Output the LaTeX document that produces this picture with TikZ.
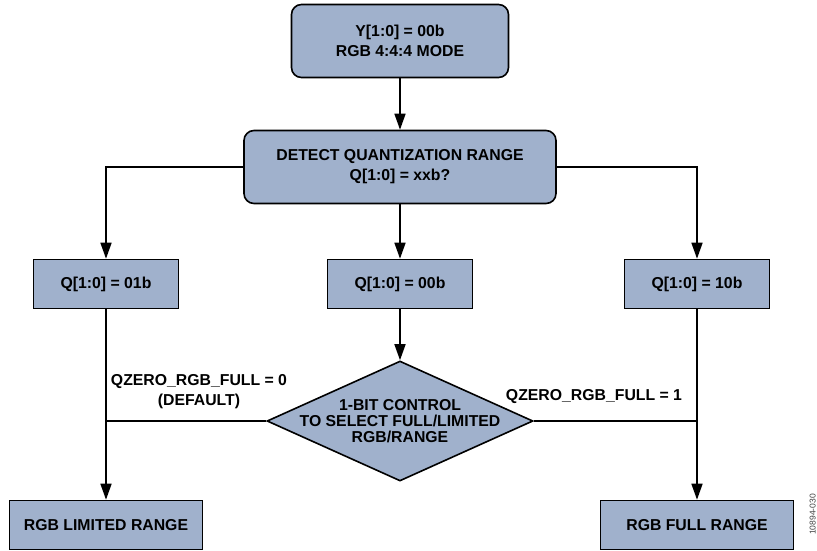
\documentclass[tikz,border=0pt]{standalone}
\usepackage{fontspec}
\setmainfont{Liberation Sans}
\usetikzlibrary{arrows.meta,shapes.geometric}
\definecolor{boxfill}{RGB}{160,177,204}
\begin{document}
\begin{tikzpicture}[x=1pt,y=-1pt,
  txt/.style={font=\fontsize{15.8}{20}\selectfont\bfseries, align=center},
  box/.style={txt, draw, line width=1.6pt, fill=boxfill, inner sep=0pt,
    minimum width=#1, minimum height=49},
  rbox/.style={box=#1, rounded corners=10pt, minimum height=73},
  conn/.style={line width=1.6pt, -{Triangle[length=16pt,width=11pt]}},
  wire/.style={line width=1.6pt},
]
\useasboundingbox (0,0) rectangle (817,550);

% process boxes
\node[rbox=217] (mode) at (400,41) {Y[1:0] = 00b\\RGB 4:4:4 MODE};
\node[rbox=312] (det) at (400,167) {DETECT QUANTIZATION RANGE\\Q[1:0] = xxb?};
\node[box=145] (q01) at (106,284) {Q[1:0] = 01b};
\node[box=145] (q00) at (400,284) {Q[1:0] = 00b};
\node[box=145] (q10) at (697,284) {Q[1:0] = 10b};
\node[box=193] (lim) at (106,525) {RGB LIMITED RANGE};
\node[box=193] (full) at (697,525) {RGB FULL RANGE};

% decision
\node[diamond, draw, line width=1.6pt, fill=boxfill, inner sep=0pt,
  minimum width=266, minimum height=120,
  label={[txt, font=\fontsize{15.8}{16}\selectfont\bfseries]center:1-BIT CONTROL\\TO SELECT FULL/LIMITED\\RGB/RANGE}]
  (dec) at (400,421) {};

% connectors
\draw[conn] (mode) -- (det);
\draw[conn] (det.west) -| (q01.north);
\draw[conn] (det) -- (q00);
\draw[conn] (det.east) -| (q10.north);
\draw[conn] (q00) -- (dec.north);
\draw[conn] (q01) -- (lim);
\draw[conn] (q10) -- (full);
\draw[wire] (dec.west) -- (dec.west -| q01.south);
\draw[wire] (dec.east) -- (dec.east -| q10.south);

% branch labels
\node[txt] (l0) at (199,392) {QZERO\_RGB\_FULL = 0\\(DEFAULT)};
\node[txt] (l1) at (594,397) {QZERO\_RGB\_FULL = 1};

% figure number
\node[font=\fontsize{8.5}{10}\selectfont, text=black!75, rotate=90,
  anchor=base east, inner sep=0pt] (fig) at (815.5,494) {10894-030};
\end{tikzpicture}
\end{document}
